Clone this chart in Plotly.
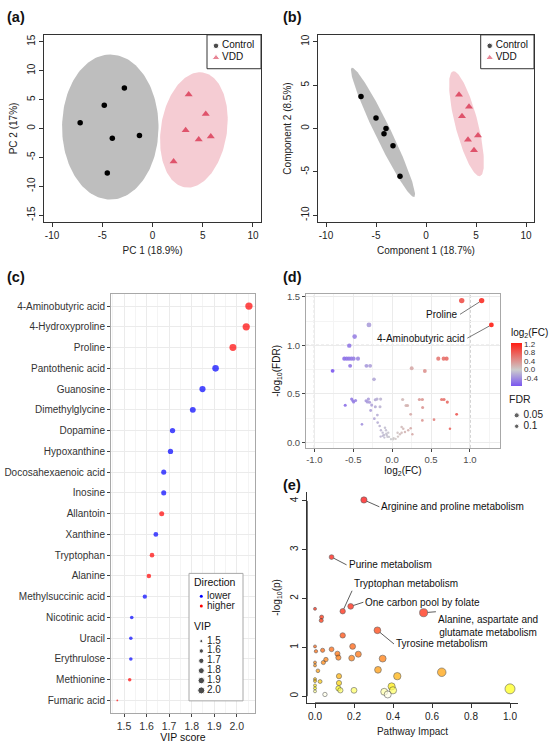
import numpy as np
import plotly.graph_objects as go

W, H = 550, 743
FONT = "Arial, Liberation Sans, sans-serif"

# ---------- (a) PCA scores ----------
groups = ["Control", "VDD"]
pca_ctrl_x = [-7.2, -4.8, -2.8, -4.0, -1.3, -4.5]
pca_ctrl_y = [1.0, 4.0, 7.0, -1.7, -1.2, -7.7]
pca_vdd_x = [3.6, 5.3, 3.3, 4.6, 5.8, 2.1]
pca_vdd_y = [5.9, 2.5, -0.3, -1.9, -1.4, -5.7]
# confidence ellipses: centre, semi-axis u, semi-axis v
pca_ctrl_ell = [(-4.2, 0.25), (0.0, 12.55), (4.8, 0.0)]
pca_vdd_ell = [(4.12, -0.25), (0.88, 9.95), (3.25, -0.85)]

# ---------- (b) PLS-DA scores ----------
pls_ctrl_x = [-6.5, -5.0, -4.0, -4.2, -3.3, -2.6]
pls_ctrl_y = [3.7, 1.2, 0.0, -0.6, -2.0, -5.5]
pls_vdd_x = [3.3, 4.3, 3.6, 4.2, 5.2, 4.8]
pls_vdd_y = [3.9, 2.5, 1.4, -1.3, -0.8, -2.5]
pls_ctrl_ell = [(-4.3, -0.45), (-3.13, 7.45), (0.71, 0.40)]
pls_vdd_ell = [(4.05, 0.55), (-1.35, 6.05), (1.10, 0.33)]

ticks10 = [-10, -5, 0, 5, 10]
ticks15 = [-15, -10, -5, 0, 5, 10, 15]

# ---------- (c) VIP scores ----------
vip_names = ["4-Aminobutyric acid", "4-Hydroxyproline", "Proline", "Pantothenic acid",
             "Guanosine", "Dimethylglycine", "Dopamine", "Hypoxanthine",
             "Docosahexaenoic acid", "Inosine", "Allantoin", "Xanthine", "Tryptophan",
             "Alanine", "Methylsuccinic acid", "Nicotinic acid", "Uracil", "Erythrulose",
             "Methionine", "Fumaric acid"]
vip_scores = [2.054, 2.042, 1.983, 1.906, 1.848, 1.805, 1.715, 1.706, 1.676, 1.676,
              1.667, 1.641, 1.624, 1.610, 1.592, 1.534, 1.530, 1.530, 1.525, 1.470]
vip_dir = ["higher", "higher", "higher", "lower", "lower", "lower", "lower", "lower",
           "lower", "lower", "higher", "lower", "higher", "higher", "lower", "lower",
           "lower", "lower", "higher", "higher"]
vip_ticks = [1.5, 1.6, 1.7, 1.8, 1.9, 2.0]
vip_legend = [1.5, 1.6, 1.7, 1.8, 1.9, 2.0]

# ---------- (d) volcano ----------
vol_fc = [1.15, 0.894, 1.275, -0.298, -0.482, -0.551,
          -0.615, -0.584, -0.555, -0.525, -0.495, -0.439,
          -0.54, -0.33, -0.283, -0.765, -0.233,
          0.593, 0.662, 0.70, 0.251, 0.42,
          -0.603, -0.52, -0.495, -0.47, -0.505, -0.335, -0.305, -0.29, -0.318,
          -0.216, -0.195, -0.148, -0.263, -0.216, -0.156, -0.276, -0.19, -0.388,
          -0.229, -0.186, -0.16,
          -0.144, -0.122, -0.092, -0.079, -0.105, -0.07, -0.05, -0.148, -0.10, -0.04,
          -0.075, -0.015, 0.015, 0.045, 0.075, 0.10, 0.07, 0.122, 0.143, 0.122, 0.165,
          0.207, 0.238, 0.26, -0.12, -0.06, 0.02,
          0.135, 0.178, 0.198, 0.35, 0.388, 0.392, 0.238, 0.388, 0.538, 0.636, 0.666,
          0.709, 0.829, 0.743]
vol_lfdr = [1.46, 1.46, 1.21, 1.21, 1.09, 0.997,
            0.863, 0.863, 0.863, 0.863, 0.863, 0.863,
            0.789, 0.789, 0.789, 0.738, 0.65,
            0.863, 0.863, 0.863, 0.764, 0.736,
            0.383, 0.447, 0.418, 0.433, 0.43, 0.43, 0.447, 0.415, 0.418,
            0.44, 0.447, 0.447, 0.385, 0.368, 0.368, 0.33, 0.283, 0.187,
            0.245, 0.205, 0.17,
            0.126, 0.102, 0.153, 0.126, 0.078, 0.078, 0.102, 0.061, 0.051, 0.058,
            0.09, 0.034, 0.034, 0.037, 0.061, 0.085, 0.10, 0.10, 0.143, 0.16, 0.109,
            0.126, 0.147, 0.085, 0.07, 0.06, 0.045,
            0.443, 0.382, 0.382, 0.443, 0.443, 0.361, 0.29, 0.228, 0.235, 0.443, 0.443,
            0.416, 0.29, 0.143]
vol_labels = ["Proline", "4-Aminobutyric acid"]
vol_label_idx = [0, 2]
fdr_legend = [0.05, 0.1]

# ---------- (e) pathway analysis ----------
path_impact = [0.251, 0.085, 0.142, 0.183, 0.557, 0.32,
               0.0, 0.034, 0.032, 0.142, 0.0, 0.005, 0.039, 0.085, 0.115, 0.12,
               0.193, 0.188, 0.222, 0.347, 0.043, 0.056, 0.0, 0.0, 0.015, 0.323,
               0.422, 0.65, 0.123, 0.0, 0.0, 0.026, 0.123, 0.0, 0.0, 0.0, 0.12,
               0.13, 0.051, 0.2, 0.393, 0.40, 0.355, 0.373, 1.0]
path_logp = [4.02, 2.85, 1.74, 1.84, 1.71, 1.35,
             1.79, 1.62, 1.55, 1.245, 1.02, 0.92, 0.94, 0.96, 0.87, 0.79,
             1.02, 0.78, 0.86, 0.77, 0.69, 0.75, 0.69, 0.63, 0.52, 0.54,
             0.41, 0.49, 0.41, 0.35, 0.31, 0.30, 0.27, 0.22, 0.16, 0.10, 0.16,
             0.12, 0.035, 0.12, 0.20, 0.12, 0.09, 0.035, 0.15]
path_labels = ["Arginine and proline metabolism", "Purine metabolism",
               "Tryptophan metabolism", "One carbon pool by folate",
               "Alanine, aspartate and<br>glutamate metabolism", "Tyrosine metabolism"]


def px2x(p):
    return p / W


def px2y(p):
    return 1 - p / H


def ellipse(params, n=160):
    (cx, cy), (ux, uy), (vx, vy) = params
    t = np.linspace(0, 2 * np.pi, n)
    return cx + ux * np.cos(t) + vx * np.sin(t), cy + uy * np.cos(t) + vy * np.sin(t)


vip_lo, vip_hi = min(vip_scores), max(vip_scores)


def vip_size(v):
    # ggplot-like area scale
    t = max(0.0, (v - vip_lo) / (vip_hi - vip_lo))
    return 1.8 + 5.5 * np.sqrt(t)


def fdr_size(y):
    return 2.2 + 2.2 * y


def impact_size(v):
    return 3.0 + 7.0 * v ** 0.55


fig = go.Figure()

# score plots (a) and (b)
score_sets = [
    ("x", "y", pca_ctrl_ell, pca_vdd_ell, pca_ctrl_x, pca_ctrl_y, pca_vdd_x, pca_vdd_y),
    ("x2", "y2", pls_ctrl_ell, pls_vdd_ell, pls_ctrl_x, pls_ctrl_y, pls_vdd_x, pls_vdd_y),
]
for xa, ya, ce, ve, cx, cy, vx, vy in score_sets:
    for ell, col in [(ce, "#BEBEBE"), (ve, "#F5CCD3")]:
        ex, ey = ellipse(ell)
        fig.add_trace(go.Scatter(x=ex, y=ey, mode="lines", fill="toself", fillcolor=col,
                                 line=dict(width=0), xaxis=xa, yaxis=ya, hoverinfo="skip"))
    fig.add_trace(go.Scatter(x=cx, y=cy, mode="markers", xaxis=xa, yaxis=ya,
                             marker=dict(color="black", size=5.5, symbol="circle")))
    fig.add_trace(go.Scatter(x=vx, y=vy, mode="markers", xaxis=xa, yaxis=ya,
                             marker=dict(color="#DF536B", size=7, symbol="triangle-up")))

# (c) VIP
dir_colors = {"lower": "#0000FF", "higher": "#FF0000"}
fig.add_trace(go.Scatter(
    x=vip_scores, y=vip_names, mode="markers", xaxis="x3", yaxis="y3",
    marker=dict(color=[dir_colors[d] for d in vip_dir],
                size=[vip_size(v) for v in vip_scores], line=dict(width=0))))

# (d) volcano
fig.add_trace(go.Scatter(
    x=vol_fc, y=vol_lfdr, mode="markers", xaxis="x4", yaxis="y4",
    marker=dict(color=vol_fc, cmin=-0.77, cmax=1.27,
                colorscale=[[0, "#7A56F0"], [0.377, "#CCCCCC"], [1, "#FF1E14"]],
                size=[fdr_size(v) for v in vol_lfdr], opacity=0.9, line=dict(width=0),
                colorbar=dict(x=px2x(511), xanchor="left", y=px2y(324), yanchor="top",
                              len=60, lenmode="pixels", thickness=10.5,
                              thicknessmode="pixels", outlinewidth=0, xpad=0, ypad=0,
                              tickvals=[-0.4, 0, 0.4, 0.8, 1.2],
                              ticktext=["-0.4", "0.0", "0.4", "0.8", "1.2"], ticks="",
                              tickfont=dict(size=8, color="#333"),
                              title=dict(text="log<sub>2</sub>(FC)", side="top",
                                         font=dict(size=10, color="#111"))))))

# (e) pathway impact
pmax = max(path_logp)
heat_stops = [(0.0, "#FFFFFF"), (0.04, "#FFFFE6"), (0.09, "#FFFFA8"), (0.12, "#FFFF60"),
              (0.15, "#FFFF10"), (0.21, "#FFE800"), (0.3, "#FFC800"), (0.45, "#FFA400"),
              (0.6, "#FF8C00"), (0.8, "#FF7200"), (1.0, "#FF5A00"), (1.3, "#FF3C00"),
              (1.6, "#FF2400"), (1.85, "#FF1400"), (pmax, "#FF0000")]
fig.add_trace(go.Scatter(
    x=path_impact, y=path_logp, mode="markers", xaxis="x5", yaxis="y5",
    marker=dict(color=path_logp, cmin=0, cmax=pmax,
                colorscale=[[v / pmax, c] for v, c in heat_stops],
                size=[impact_size(v) for v in path_impact],
                line=dict(color="#222", width=0.6))))

# ---------- legend keys, drawn on a full-page helper axis in pixel units ----------
key_font = dict(family=FONT, size=10, color="#111")
for left, top in [(207, 32), (480.7, 32)]:
    rows = top + 11 + 12 * np.arange(len(groups))
    fig.add_trace(go.Scatter(x=[left + 9] * 2, y=rows, mode="markers", xaxis="x6", yaxis="y6",
                             marker=dict(color=["black", "#DF536B"], size=[5.5, 7],
                                         symbol=["circle", "triangle-up"])))
    fig.add_trace(go.Scatter(x=[left + 15] * 2, y=rows, mode="text", text=groups,
                             textposition="middle right", textfont=key_font,
                             xaxis="x6", yaxis="y6"))

# (c) legend: white box over the grid, then keys
box_c = (189, 572.7, 243, 700.7)
fig.add_trace(go.Scatter(x=[box_c[0], box_c[2], box_c[2], box_c[0], box_c[0]],
                         y=[box_c[1], box_c[1], box_c[3], box_c[3], box_c[1]],
                         mode="lines", fill="toself", fillcolor="white",
                         line=dict(color="#A8A8A8", width=1), xaxis="x6", yaxis="y6",
                         hoverinfo="skip"))
dir_rows = 595.7 + 9.8 * np.arange(2)
vip_rows = 640.7 + 9.9 * np.arange(len(vip_legend))
fig.add_trace(go.Scatter(x=[201.3] * 2, y=dir_rows, mode="markers", xaxis="x6", yaxis="y6",
                         marker=dict(color=[dir_colors["lower"], dir_colors["higher"]], size=3)))
fig.add_trace(go.Scatter(x=[201.3] * len(vip_legend), y=vip_rows, mode="markers",
                         xaxis="x6", yaxis="y6",
                         marker=dict(color="black", size=[vip_size(v) for v in vip_legend])))
fig.add_trace(go.Scatter(x=[207] * 2 + [207] * len(vip_legend),
                         y=list(dir_rows) + list(vip_rows), mode="text",
                         text=["lower", "higher"] + ["%.1f" % v for v in vip_legend],
                         textposition="middle right", textfont=dict(family=FONT, size=10, color="#222"),
                         xaxis="x6", yaxis="y6"))
fig.add_trace(go.Scatter(x=[194, 194], y=[582.7, 627.3], mode="text", text=["Direction", "VIP"],
                         textposition="middle right", textfont=dict(family=FONT, size=10.5, color="#111"),
                         xaxis="x6", yaxis="y6"))

# (d) FDR legend
fdr_rows = 414 + 11 * np.arange(len(fdr_legend))
fig.add_trace(go.Scatter(x=[516.7] * 2, y=fdr_rows, mode="markers", xaxis="x6", yaxis="y6",
                         marker=dict(color="#222", size=[fdr_size(-np.log10(f)) for f in fdr_legend])))
fig.add_trace(go.Scatter(x=[523.5] * 2 + [509], y=list(fdr_rows) + [399.3], mode="text",
                         text=[str(f) for f in fdr_legend] + ["FDR"],
                         textposition="middle right",
                         textfont=dict(family=FONT, size=[10, 10, 10.5], color="#222"),
                         xaxis="x6", yaxis="y6"))

# ---------- axes ----------
def r_axis(**kw):
    d = dict(showgrid=False, zeroline=False, ticks="outside", ticklen=4, tickwidth=1,
             tickcolor="#333", linecolor="#333", linewidth=1,
             tickfont=dict(size=10, color="#222"))
    d.update(kw)
    return d


def gg_axis(**kw):
    d = dict(showline=True, mirror=True, linecolor="#A8A8A8", linewidth=1, ticks="outside",
             ticklen=3, tickcolor="#444", showgrid=True, gridcolor="#EBEBEB", gridwidth=0.8,
             zeroline=False)
    d.update(kw)
    return d


title_font = dict(size=10, color="#222")
lbl = lambda v: [str(t) for t in v]

layout = dict(
    width=W, height=H, margin=dict(l=0, r=0, t=0, b=0), showlegend=False,
    paper_bgcolor="white", plot_bgcolor="rgba(0,0,0,0)", font=dict(family=FONT, color="#222"),
    xaxis=r_axis(domain=[px2x(44), px2x(261)], range=[-10.8, 10.8], anchor="y",
                 tickvals=ticks10, ticktext=lbl(ticks10), showline=True, mirror=True,
                 title=dict(text="PC 1 (18.9%)", standoff=6, font=title_font)),
    yaxis=r_axis(domain=[px2y(220), px2y(32)], range=[-16.2, 16.2], anchor="x",
                 tickvals=ticks15, ticktext=lbl(ticks15), tickangle=-90, showline=True,
                 mirror=True, title=dict(text="PC 2 (17%)", standoff=6, font=title_font)),
    xaxis2=r_axis(domain=[px2x(318), px2x(534)], range=[-10.8, 10.8], anchor="y2",
                  tickvals=ticks10, ticktext=lbl(ticks10), showline=True, mirror=True,
                  title=dict(text="Component 1 (18.7%)", standoff=6, font=title_font)),
    yaxis2=r_axis(domain=[px2y(220), px2y(32)], range=[-10.8, 10.8], anchor="x2",
                  tickvals=ticks10, ticktext=lbl(ticks10), tickangle=-90, showline=True,
                  mirror=True, title=dict(text="Component 2 (8.5%)", standoff=6, font=title_font)),
    xaxis3=gg_axis(domain=[px2x(111), px2x(255)], range=[1.442, 2.081], anchor="y3",
                   tickvals=vip_ticks, ticktext=["%.1f" % v for v in vip_ticks],
                   tickfont=dict(size=10.5, color="#333"),
                   minor=dict(dtick=0.05, tick0=1.45, showgrid=True, gridcolor="#F4F4F4", ticklen=0),
                   title=dict(text="VIP score", standoff=1, font=dict(size=10.5, color="#111"))),
    yaxis3=gg_axis(domain=[px2y(712.8), px2y(291.8)], type="category", categoryorder="array",
                   categoryarray=vip_names, range=[len(vip_names) - 0.4, -0.6], anchor="x3",
                   tickfont=dict(size=10, color="#333")),
    xaxis4=gg_axis(domain=[px2x(306), px2x(500)], range=[-1.107, 1.386], anchor="y4",
                   tickvals=[-1, -0.5, 0, 0.5, 1], ticktext=["-1.0", "-0.5", "0.0", "0.5", "1.0"],
                   tickfont=dict(size=9.5, color="#4D4D4D"),
                   minor=dict(dtick=0.25, tick0=-1, showgrid=True, gridcolor="#F4F4F4", ticklen=0),
                   title=dict(text="log<sub>2</sub>(FC)", standoff=2, font=dict(size=10, color="#111"))),
    yaxis4=gg_axis(domain=[px2y(446.7), px2y(292)], range=[-0.055, 1.53], anchor="x4",
                   tickvals=[0, 0.5, 1, 1.5], ticktext=["0.0", "0.5", "1.0", "1.5"],
                   tickfont=dict(size=9.5, color="#4D4D4D"),
                   minor=dict(dtick=0.25, tick0=0, showgrid=True, gridcolor="#F4F4F4", ticklen=0),
                   title=dict(text="-log<sub>10</sub>(FDR)", standoff=4, font=dict(size=10, color="#111"))),
    xaxis5=r_axis(domain=[px2x(307.2), px2x(517.8)], range=[-0.04, 1.04], anchor="y5",
                  tickvals=[0, 0.2, 0.4, 0.6, 0.8, 1.0],
                  ticktext=["0.0", "0.2", "0.4", "0.6", "0.8", "1.0"], ticklen=4.5,
                  title=dict(text="Pathway Impact", standoff=6, font=title_font)),
    yaxis5=r_axis(domain=[px2y(702.7), px2y(491)], range=[-0.137, 4.183], anchor="x5",
                  tickvals=[0, 1, 2, 3, 4], ticktext=["0", "1", "2", "3", "4"], tickangle=-90,
                  ticklen=4.5,
                  title=dict(text="-log<sub>10</sub>(p)", standoff=6, font=title_font)),
    xaxis6=dict(domain=[0, 1], range=[0, W], visible=False, fixedrange=True, anchor="y6"),
    yaxis6=dict(domain=[0, 1], range=[H, 0], visible=False, fixedrange=True, anchor="x6"),
)

shapes = []
# legend boxes for (a) and (b)
for left, right in [(207, 261), (480.7, 534)]:
    shapes.append(dict(type="rect", xref="paper", yref="paper", x0=px2x(left), x1=px2x(right),
                       y0=px2y(66), y1=px2y(32), line=dict(color="#333", width=1),
                       fillcolor="rgba(0,0,0,0)", layer="above"))
# (d) threshold lines
for xv in [-1, 1]:
    shapes.append(dict(type="line", xref="x4", yref="y4 domain", x0=xv, x1=xv, y0=0, y1=1,
                       line=dict(color="#8C8C8C", width=0.8, dash="3px,2px"), layer="below"))
shapes.append(dict(type="line", xref="x4 domain", yref="y4", x0=0, x1=1, y0=1, y1=1,
                   line=dict(color="#8C8C8C", width=0.8, dash="3px,2px"), layer="below"))
# (e) R-style axis lines from first to last tick
shapes.append(dict(type="line", xref="x5", yref="y5 domain", x0=0, x1=1, y0=0, y1=0,
                   line=dict(color="#333", width=1)))
shapes.append(dict(type="line", xref="x5 domain", yref="y5", x0=0, x1=0, y0=0, y1=4,
                   line=dict(color="#333", width=1)))
layout["shapes"] = shapes

ann = []
for text, x, y in [("(a)", 5, 14), ("(b)", 280.5, 14), ("(c)", 5, 275.5),
                   ("(d)", 280.5, 275.5), ("(e)", 280.5, 484)]:
    ann.append(dict(text="<b>%s</b>" % text, x=px2x(x), y=px2y(y), xref="paper", yref="paper",
                    xanchor="left", yanchor="middle", showarrow=False,
                    font=dict(size=14.5, color="#111")))

# (d) labelled metabolites
vol_text_pos = [(0.872, 1.319), (0.966, 1.074)]
for name, i, (tx, ty) in zip(vol_labels, vol_label_idx, vol_text_pos):
    ann.append(dict(text=name, x=vol_fc[i], y=vol_lfdr[i], xref="x4", yref="y4",
                    ax=tx, ay=ty, axref="x4", ayref="y4", xanchor="right", yanchor="middle",
                    showarrow=True, arrowhead=0, arrowwidth=0.8, arrowcolor="#555",
                    standoff=fdr_size(vol_lfdr[i]) / 2, font=dict(size=10, color="#111")))

# (e) labelled pathways
path_text_pos = [(0.33, 3.88, "left", "middle"), (0.162, 2.69, "left", "middle"),
                 (0.19, 2.16, "left", "bottom"), (0.248, 1.925, "left", "middle"),
                 (0.62, 1.73, "left", "top"), (0.405, 1.07, "left", "middle")]
for i, (name, (tx, ty, xa, ya)) in enumerate(zip(path_labels, path_text_pos)):
    ann.append(dict(text=name, x=path_impact[i], y=path_logp[i], xref="x5", yref="y5",
                    ax=tx, ay=ty, axref="x5", ayref="y5", xanchor=xa, yanchor=ya, align="center",
                    showarrow=True, arrowhead=0, arrowwidth=0.8, arrowcolor="#333",
                    standoff=impact_size(path_impact[i]) / 2,
                    font=dict(size=10, color="#111")))
layout["annotations"] = ann

fig.update_layout(**layout)
# the page body has a default 8px margin; drop it so the figure fills the window
fig.write_html("out.html", config={"displayModeBar": False},
               post_script="document.body.style.margin='0';")
